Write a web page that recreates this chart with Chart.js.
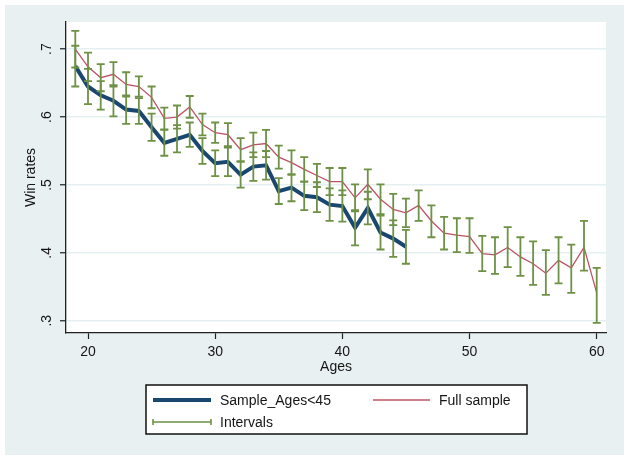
<!DOCTYPE html>
<html><head><meta charset="utf-8">
<script src="https://cdn.jsdelivr.net/npm/chart.js@4.4.1/dist/chart.umd.min.js"></script>
<style>html,body{margin:0;padding:0;background:#fff;}</style>
</head><body>
<canvas id="c" width="629" height="460"></canvas>
<script>
// ---- data ----
const ages = [19,20,21,22,23,24,25,26,27,28,29,30,31,32,33,34,35,36,37,38,39,40,41,42,43,44,45,46,47,48,49,50,51,52,53,54,55,56,57,58,59,60];
const fullSample = [.700,.674,.658,.663,.648,.645,.629,.598,.600,.615,.589,.577,.574,.552,.559,.561,.541,.533,.523,.514,.505,.505,.481,.501,.479,.464,.459,.470,.447,.429,.426,.424,.399,.397,.408,.394,.384,.370,.389,.378,.408,.341];
const fullLow  = [.673,.653,.638,.645,.630,.630,.613,.582,.583,.599,.573,.562,.557,.535,.541,.541,.524,.515,.505,.497,.485,.485,.461,.479,.457,.441,.438,.447,.423,.405,.401,.400,.373,.369,.379,.366,.353,.338,.355,.341,.374,.297];
const fullHigh = [.727,.695,.678,.681,.666,.660,.645,.614,.617,.631,.605,.592,.591,.569,.577,.581,.558,.551,.541,.531,.525,.525,.501,.523,.501,.487,.480,.492,.470,.453,.451,.451,.425,.423,.438,.423,.417,.404,.423,.412,.447,.378];
const sampleAges = [19,20,21,22,23,24,25,26,27,28,29,30,31,32,33,34,35,36,37,38,39,40,41,42,43,44,45];
const sampleU45 = [.675,.645,.632,.624,.611,.609,.585,.562,.568,.574,.550,.532,.534,.515,.527,.529,.491,.496,.484,.482,.471,.469,.437,.466,.430,.421,.409];
const sampleLow  = [.645,.619,.611,.601,.590,.590,.565,.543,.548,.556,.531,.513,.513,.496,.506,.508,.472,.476,.463,.460,.447,.446,.411,.442,.405,.394,.384];
const sampleHigh = [.705,.671,.653,.647,.632,.628,.605,.581,.588,.592,.569,.551,.555,.534,.548,.550,.510,.516,.505,.504,.495,.492,.463,.490,.455,.448,.434];
const xTickValues = [20,30,40,50,60];
const yTickValues = [0.3,0.4,0.5,0.6,0.7];
const yTickLabels = ['.3','.4','.5','.6','.7'];
const seriesNames = ['Sample_Ages<45','Full sample','Intervals'];
const xTitle = 'Ages';
const yTitle = 'Win rates';

const FONT = '"Liberation Sans", Arial, sans-serif';
const NAVY = '#1a476f', RED = '#bc5364', GREEN = '#6e9146', TXT = '#151515';

const bgPlugin = {
  id: 'bg',
  beforeDraw(chart) {
    const ctx = chart.ctx, a = chart.chartArea;
    ctx.save();
    ctx.fillStyle = '#ffffff';
    ctx.fillRect(0, 0, chart.width, chart.height);
    ctx.fillStyle = '#e9f0f2';
    ctx.fillRect(5, 5, 619, 450);
    ctx.fillStyle = '#ffffff';
    ctx.fillRect(a.left, a.top, a.right - a.left, a.bottom - a.top);
    ctx.restore();
  },
  afterDatasetsDraw(chart) {
    const ctx = chart.ctx, xs = chart.scales.x, ys = chart.scales.y;
    ctx.save();
    ctx.strokeStyle = GREEN;
    ctx.lineWidth = 1.8;
    const bar = (age, lo, hi) => {
      const px = xs.getPixelForValue(age);
      const p1 = ys.getPixelForValue(lo), p2 = ys.getPixelForValue(hi);
      ctx.beginPath();
      ctx.moveTo(px, p1); ctx.lineTo(px, p2);
      ctx.moveTo(px - 4, p1); ctx.lineTo(px + 4, p1);
      ctx.moveTo(px - 4, p2); ctx.lineTo(px + 4, p2);
      ctx.stroke();
    };
    sampleAges.forEach((a, i) => bar(a, sampleLow[i], sampleHigh[i]));
    ages.forEach((a, i) => bar(a, fullLow[i], fullHigh[i]));
    ctx.restore();
  },
  afterDraw(chart) {
    const ctx = chart.ctx, ys = chart.scales.y, a = chart.chartArea;
    ctx.save();
    ctx.fillStyle = TXT;
    ctx.font = '14px ' + FONT;
    ctx.textAlign = 'center';
    ctx.textBaseline = 'middle';
    yTickValues.forEach((v, i) => {
      const py = ys.getPixelForValue(v);
      ctx.save();
      ctx.translate(47, py);
      ctx.rotate(-Math.PI / 2);
      ctx.fillText(yTickLabels[i], 0, 0);
      ctx.restore();
    });
    ctx.save();
    ctx.translate(31, (a.top + a.bottom) / 2);
    ctx.rotate(-Math.PI / 2);
    ctx.fillText(yTitle, 0, 0);
    ctx.restore();
    ctx.fillText(xTitle, (a.left + a.right) / 2, 367);

    // legend
    const L = 146, T = 385, W = 381, H = 49;
    ctx.fillStyle = '#ffffff';
    ctx.fillRect(L, T, W, H);
    ctx.strokeStyle = '#111';
    ctx.lineWidth = 1.5;
    ctx.strokeRect(L, T, W, H);
    ctx.lineCap = 'butt';
    ctx.strokeStyle = NAVY; ctx.lineWidth = 4;
    ctx.beginPath(); ctx.moveTo(153, 400); ctx.lineTo(211, 400); ctx.stroke();
    ctx.strokeStyle = RED; ctx.lineWidth = 1.3;
    ctx.beginPath(); ctx.moveTo(373, 400); ctx.lineTo(430, 400); ctx.stroke();
    ctx.strokeStyle = GREEN; ctx.lineWidth = 1.6;
    ctx.beginPath(); ctx.moveTo(153, 422); ctx.lineTo(211, 422);
    ctx.moveTo(153, 419); ctx.lineTo(153, 425);
    ctx.moveTo(211, 419); ctx.lineTo(211, 425);
    ctx.stroke();
    ctx.fillStyle = TXT;
    ctx.textAlign = 'left';
    ctx.fillText(seriesNames[0], 220, 401);
    ctx.fillText(seriesNames[1], 439, 401);
    ctx.fillText(seriesNames[2], 220, 423);
    ctx.restore();
  }
};

new Chart(document.getElementById('c'), {
  type: 'line',
  data: {
    datasets: [
      { label: seriesNames[0], data: sampleAges.map((a, i) => ({x: a, y: sampleU45[i]})),
        borderColor: NAVY, borderWidth: 4, pointRadius: 0, tension: 0, fill: false },
      { label: seriesNames[1], data: ages.map((a, i) => ({x: a, y: fullSample[i]})),
        borderColor: RED, borderWidth: 1.3, pointRadius: 0, tension: 0, fill: false }
    ]
  },
  options: {
    responsive: false, animation: false, devicePixelRatio: 1,
    layout: { padding: { left: 0, right: 23, top: 22, bottom: 0 } },
    plugins: { legend: { display: false }, tooltip: { enabled: false } },
    scales: {
      x: {
        type: 'linear', min: 18.27, max: 60.73,
        afterBuildTicks: s => { s.ticks = xTickValues.map(v => ({value: v})); },
        afterFit: s => { s.height = 127; },
        grid: { drawOnChartArea: false, drawTicks: true, tickLength: 6, tickColor: '#222', tickWidth: 1.2 },
        border: { color: '#222', width: 1.3 },
        ticks: { font: { family: FONT, size: 14 }, color: TXT, padding: 5, maxRotation: 0, autoSkip: false }
      },
      y: {
        type: 'linear', min: 0.282, max: 0.74,
        afterBuildTicks: s => { s.ticks = yTickValues.map(v => ({value: v})); },
        afterFit: s => { s.width = 66; },
        grid: { color: '#e6eff2', lineWidth: 1.5, drawTicks: true, tickLength: 6, tickColor: '#222', tickWidth: 1.2 },
        border: { color: '#222', width: 1.3 },
        ticks: { display: false }
      }
    }
  },
  plugins: [bgPlugin]
});
</script>
</body></html>
